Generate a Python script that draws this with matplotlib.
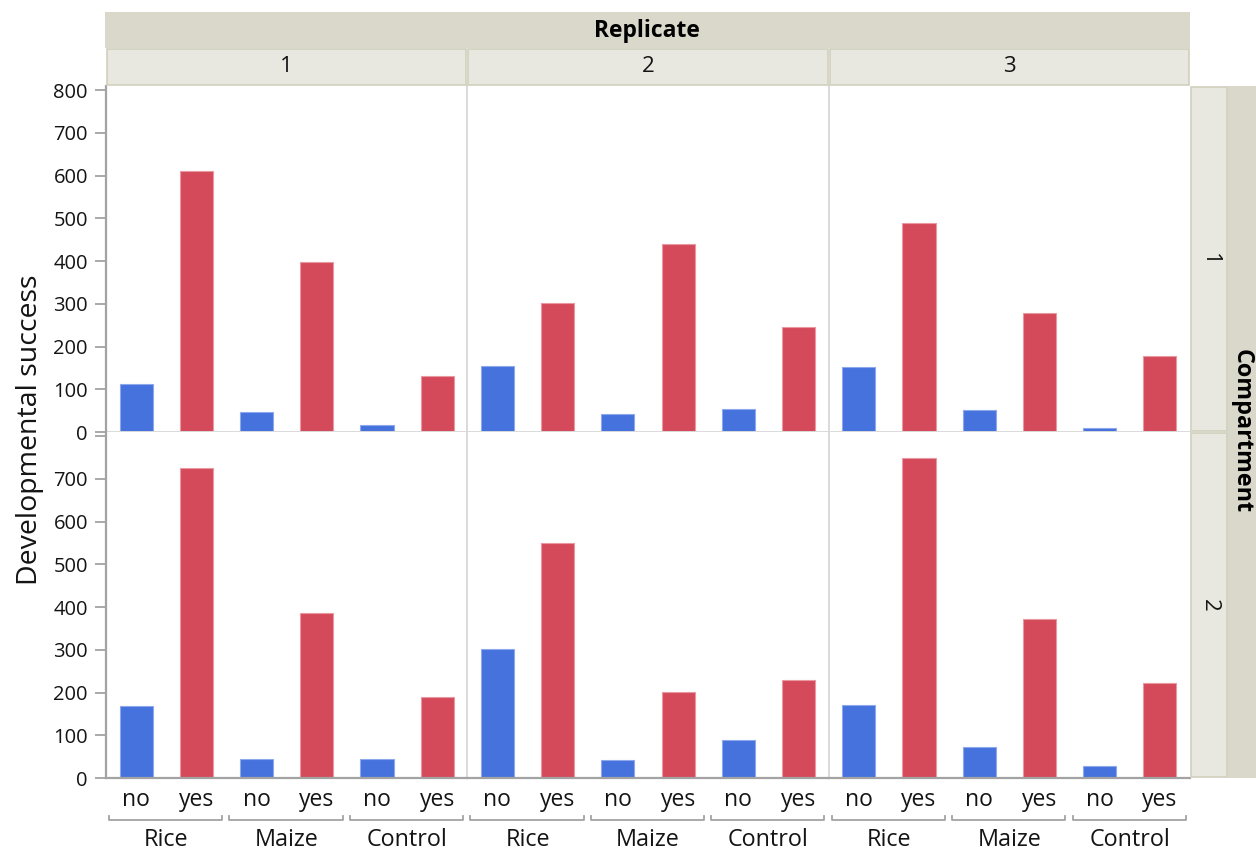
import matplotlib
matplotlib.use("Agg")
import matplotlib.pyplot as plt
from matplotlib.patches import Rectangle
from matplotlib import transforms

plt.rcParams['font.family'] = ['Open Sans', 'Noto Sans', 'DejaVu Sans']

# ---- data -------------------------------------------------------------
replicates = ["1", "2", "3"]
compartments = ["1", "2"]
hosts = ["Rice", "Maize", "Control"]
status = ["no", "yes"]

# Developmental success per (host, status) pair: Rice-no, Rice-yes, Maize-no, ...
comp1_rep1 = [112, 612, 46, 399, 17, 130]
comp1_rep2 = [155, 302, 41, 440, 53, 245]
comp1_rep3 = [152, 490, 51, 278, 9, 179]
comp2_rep1 = [169, 726, 45, 386, 44, 190]
comp2_rep2 = [301, 551, 43, 202, 89, 229]
comp2_rep3 = [172, 749, 72, 373, 29, 222]

panels = [[comp1_rep1, comp1_rep2, comp1_rep3],
          [comp2_rep1, comp2_rep2, comp2_rep3]]

y_ticks = [0, 100, 200, 300, 400, 500, 600, 700, 800]

# ---- style ------------------------------------------------------------
BLUE, BLUE_EDGE = "#4572DD", "#8EA8EE"
RED, RED_EDGE = "#D44A5A", "#EA98A2"
AXIS_GRAY = "#A3A3A3"
SEP_GRAY = "#DADADA"
STRIP_DARK = "#DAD8CA"
STRIP_LIGHT = "#E8E8E0"
STRIP_EDGE = "#D2D0BE"
TXT = "#141414"

W, H = 1256, 851
fig = plt.figure(figsize=(W / 100, H / 100), dpi=100)


def fx(x):
    return x / W


def fy(y):
    return 1 - y / H


col_edges = [106, 467.3, 828.7, 1190]
row_edges = [86, 432, 778]
ymax = 810

for r in range(2):
    for c in range(3):
        x0, x1 = col_edges[c], col_edges[c + 1]
        y0, y1 = row_edges[r], row_edges[r + 1]
        ax = fig.add_axes([fx(x0), fy(y1), (x1 - x0) / W, (y1 - y0) / H])
        vals = panels[r][c]
        xs = list(range(len(vals)))
        ax.bar(xs, vals, width=0.55,
               color=[BLUE, RED] * len(hosts),
               edgecolor=[BLUE_EDGE, RED_EDGE] * len(hosts), linewidth=0.8,
               zorder=2)
        ax.set_xlim(-0.5, len(vals) - 0.5)
        ax.set_ylim(0, ymax)
        ax.set_xticks([])
        ax.set_facecolor("white")
        for side in ("top", "right", "left", "bottom"):
            ax.spines[side].set_color(SEP_GRAY)
            ax.spines[side].set_linewidth(1.4)
        ax.spines["top"].set_visible(False)
        if c == 2:
            ax.spines["right"].set_visible(False)
        if c == 0:
            ax.spines["left"].set_color(AXIS_GRAY)
            ax.spines["left"].set_linewidth(1.6)
            ax.set_yticks(y_ticks)
            labels = [str(t) for t in y_ticks]
            if r == 1:
                labels[-1] = ""
            ax.set_yticklabels(labels, fontsize=14.5, color=TXT)
            ax.tick_params(axis="y", length=8, width=1.3, color=AXIS_GRAY, pad=5)
        else:
            ax.set_yticks([])
        if r == 1:
            ax.spines["bottom"].set_color(AXIS_GRAY)
            ax.spines["bottom"].set_linewidth(1.6)
            tr = transforms.blended_transform_factory(ax.transData, fig.transFigure)
            for i in xs:
                ax.text(i, fy(806), status[i % 2], transform=tr, ha="center",
                        va="baseline", fontsize=16.5, color=TXT)
            for g, name in enumerate(hosts):
                a, b = 2 * g - 0.45, 2 * g + 1.43
                ax.plot([a, a, b, b], [fy(816), fy(820), fy(820), fy(816)],
                        transform=tr, color=AXIS_GRAY, lw=1.3, clip_on=False)
                ax.text(2 * g + 0.5, fy(846), name, transform=tr, ha="center",
                        va="baseline", fontsize=16.8, color=TXT)

# ---- column header strips ---------------------------------------------
fig.add_artist(Rectangle((fx(105), fy(48)), (1190 - 105) / W, 36 / H,
                         transform=fig.transFigure, facecolor=STRIP_DARK,
                         edgecolor="none"))
fig.text(fx(647), fy(31), "Replicate", ha="center", va="center",
         fontsize=16.5, fontweight="bold", color="black")
for c, lab in enumerate(replicates):
    x0, x1 = col_edges[c] + 1, col_edges[c + 1] - 1
    fig.add_artist(Rectangle((fx(x0), fy(85)), (x1 - x0) / W, 36 / H,
                             transform=fig.transFigure, facecolor=STRIP_LIGHT,
                             edgecolor=STRIP_EDGE, lw=1.2))
    fig.text(fx((x0 + x1) / 2), fy(67), lab, ha="center", va="center",
             fontsize=16, color=TXT)

# ---- row header strips ------------------------------------------------
fig.add_artist(Rectangle((fx(1227), fy(778)), (1256 - 1227) / W, (778 - 86) / H,
                         transform=fig.transFigure, facecolor=STRIP_DARK,
                         edgecolor="none"))
fig.text(fx(1242), fy(431), "Compartment", ha="center", va="center",
         rotation=-90, fontsize=16.8, fontweight="bold", color="black")
for r, lab in enumerate(compartments):
    y0, y1 = row_edges[r] + 1, row_edges[r + 1] - 1
    fig.add_artist(Rectangle((fx(1191), fy(y1)), 36 / W, (y1 - y0) / H,
                             transform=fig.transFigure, facecolor=STRIP_LIGHT,
                             edgecolor=STRIP_EDGE, lw=1.2))
    fig.text(fx(1209), fy((y0 + y1) / 2), lab, ha="center", va="center",
             rotation=-90, fontsize=16, color=TXT)

fig.text(fx(30), fy(430), "Developmental success", ha="center", va="center",
         rotation=90, fontsize=20.5, color=TXT)

fig.savefig("out.png", dpi=100, facecolor="white")
